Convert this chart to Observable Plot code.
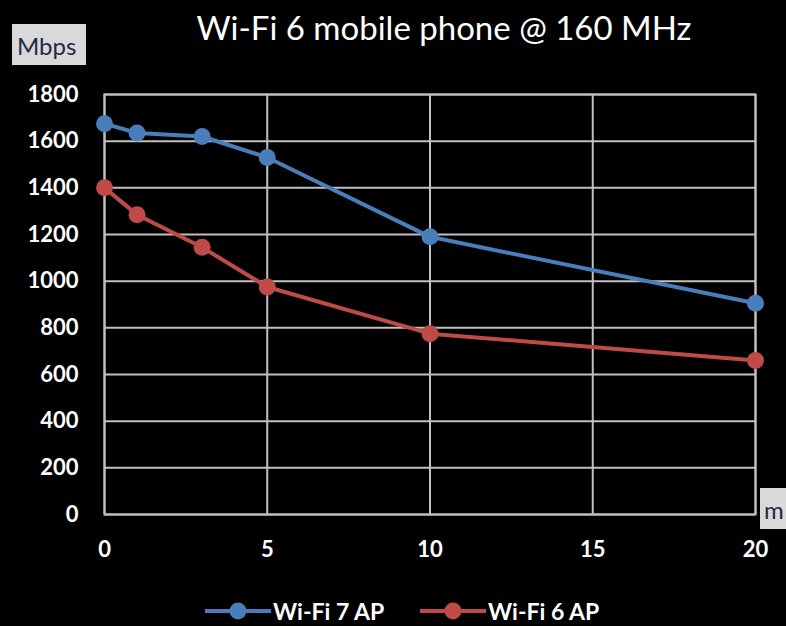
<!DOCTYPE html>
<html><head><meta charset="utf-8">
<script src="https://cdn.jsdelivr.net/npm/d3@7"></script>
<script src="https://cdn.jsdelivr.net/npm/@observablehq/plot@0.6"></script>
<style>
html,body{margin:0;padding:0;background:#000;}
#wrap{width:786px;height:626px;position:relative;overflow:hidden;background:#000;font-family:Lato,"Open Sans",sans-serif;}
#legend{position:absolute;left:0;top:590px;width:786px;height:36px;}
.item{position:absolute;top:7px;display:flex;align-items:center;color:#fff;font-weight:bold;font-size:23px;}
</style></head><body>
<div id="wrap"><div id="chart"></div><div id="legend"></div></div>
<script>
const distances = [0, 1, 3, 5, 10, 20];
const wifi7AP = [1675, 1635, 1620, 1530, 1190, 905];
const wifi6AP = [1400, 1285, 1145, 975, 775, 660];
const seriesNames = ["Wi-Fi 7 AP", "Wi-Fi 6 AP"];
const seriesColors = ["#4A7EBB", "#BE4B48"];
const xTicks = [0, 5, 10, 15, 20];
const yTicks = [0, 200, 400, 600, 800, 1000, 1200, 1400, 1600, 1800];
const titleText = "Wi-Fi 6 mobile phone @ 160 MHz";
const yUnit = "Mbps";
const xUnit = "m";

const data = [];
distances.forEach((d, i) => {
  data.push({x: d, y: wifi7AP[i], s: seriesNames[0]});
  data.push({x: d, y: wifi6AP[i], s: seriesNames[1]});
});

const grid = "#C0C0C0";
const chart = Plot.plot({
  width: 786, height: 590,
  marginLeft: 104, marginRight: 31, marginTop: 94, marginBottom: 76,
  style: {background: "#000", color: "#fff", fontFamily: "Lato, 'Open Sans', sans-serif"},
  x: {domain: [0, 20], ticks: xTicks, label: null},
  y: {domain: [0, 1800], ticks: yTicks, label: null},
  color: {domain: seriesNames, range: seriesColors},
  marks: [
    Plot.gridX(xTicks, {stroke: grid, strokeOpacity: 1, strokeWidth: 2}),
    Plot.gridY(yTicks, {stroke: grid, strokeOpacity: 1, strokeWidth: 2}),
    Plot.frame({stroke: grid, strokeWidth: 2}),
    Plot.axisX(xTicks, {tickSize: 0, tickPadding: 27, fontSize: 22, fontWeight: "bold", fill: "#fff", label: null, tickFormat: "d"}),
    Plot.axisY(yTicks, {tickSize: 0, tickPadding: 26, fontSize: 22, fontWeight: "bold", fill: "#fff", label: null, tickFormat: "d"}),
    Plot.line(data, {x: "x", y: "y", z: "s", stroke: "s", strokeWidth: 4}),
    Plot.dot(data, {x: "x", y: "y", fill: "s", r: 8.5}),
    Plot.text([titleText], {frameAnchor: "top", dx: 14, dy: -78, fontSize: 33, fill: "#fff", text: d => d})
  ]
});
document.getElementById("chart").appendChild(chart);

const svg = d3.select(chart);
function box(x, y, w, h, label, tx) {
  svg.append("rect").attr("x", x).attr("y", y).attr("width", w).attr("height", h).attr("fill", "#D9D9D9");
  svg.append("text").attr("x", tx).attr("y", y + h / 2 + 2).attr("dy", "0.35em").attr("text-anchor", "start")
    .attr("fill", "#1F2A44").attr("font-size", 24).attr("font-family", "Lato, sans-serif").text(label);
}
box(12, 24, 74, 41, yUnit, 17);
box(760, 488, 40, 41, xUnit, 764);

const legend = d3.select("#legend");
const lx = [205, 420];
seriesNames.forEach((n, i) => {
  const it = legend.append("div").attr("class", "item").style("left", lx[i] + "px");
  const s = it.append("svg").attr("width", 68).attr("height", 20);
  s.append("line").attr("x1", 0).attr("x2", 66).attr("y1", 10).attr("y2", 10).attr("stroke", seriesColors[i]).attr("stroke-width", 4);
  s.append("circle").attr("cx", 33).attr("cy", 10).attr("r", 8.5).attr("fill", seriesColors[i]);
  it.append("span").text(n);
});
</script></body></html>
